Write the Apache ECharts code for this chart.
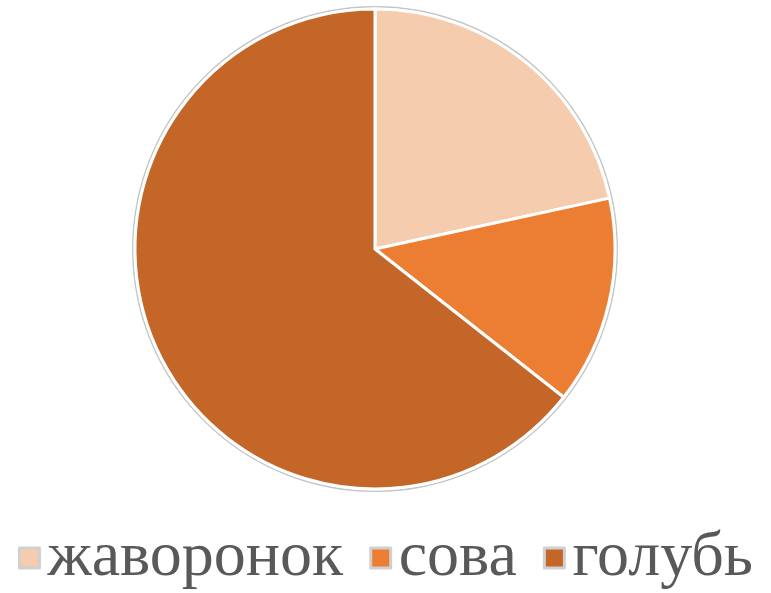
<!DOCTYPE html>
<html>
<head>
<meta charset="utf-8">
<script src="https://cdn.jsdelivr.net/npm/echarts@6/dist/echarts.min.js"></script>
<style>
  html, body { margin: 0; padding: 0; background: #ffffff; }
  #chart { width: 771px; height: 593px; }
</style>
</head>
<body>
<div id="chart"></div>
<script>
// Bird shares
var birds = ['жаворонок', 'сова', 'голубь'];
var shares = [21.6, 14.0, 64.4];
var sliceColors = ['#F5CCAE', '#EC7E33', '#C46628'];

var chart = echarts.init(document.getElementById('chart'), null, { renderer: 'canvas' });

var cx = 375, cy = 249, r = 240;

chart.setOption({
  animation: false,
  backgroundColor: '#ffffff',
  color: sliceColors,
  legend: {
    data: birds,
    left: 'center',
    top: 521,
    icon: 'rect',
    itemWidth: 20,
    itemHeight: 20,
    itemGap: 26,
    selectedMode: false,
    itemStyle: { borderColor: '#d0d0d0', borderWidth: 3 },
    textStyle: {
      fontFamily: 'Liberation Serif',
      fontSize: 64,
      color: '#595959',
      padding: [0, 0, 0, 3]
    }
  },
  graphic: [{
    type: 'circle',
    z: 0,
    silent: true,
    shape: { cx: cx, cy: cy, r: r + 2.2 },
    style: { fill: 'none', stroke: '#c4c4c4', lineWidth: 1.5 }
  }],
  series: [{
    type: 'pie',
    z: 2,
    center: [cx, cy],
    radius: r,
    startAngle: 90,
    clockwise: true,
    silent: true,
    label: { show: false },
    labelLine: { show: false },
    itemStyle: { borderColor: '#ffffff', borderWidth: 3 },
    data: birds.map(function (name, i) {
      return { name: name, value: shares[i] };
    })
  }]
});
</script>
</body>
</html>
